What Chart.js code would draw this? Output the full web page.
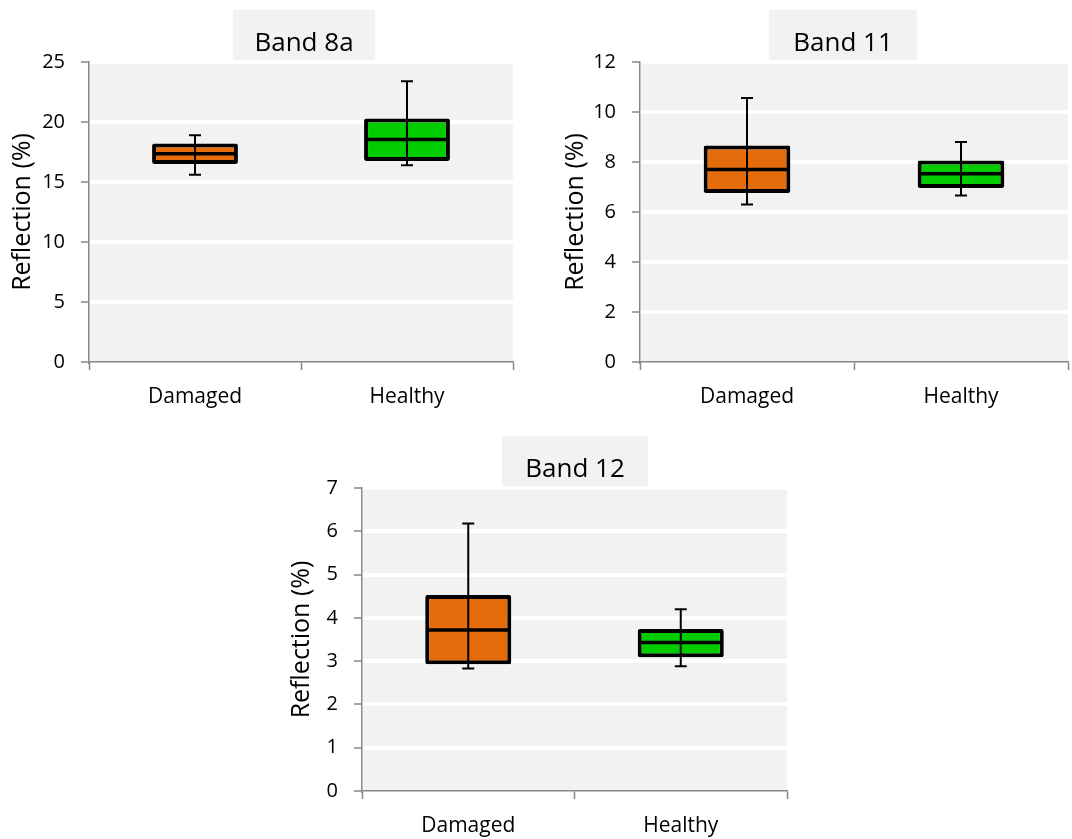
<!DOCTYPE html>
<html lang="en">
<head>
<meta charset="UTF-8">
<title>Reflection by band</title>
<script src="https://cdn.jsdelivr.net/npm/chart.js"></script>
<style>
    body {
        margin: 0;
        width: 1072px;
        height: 839px;
        background: #fff;
        position: relative;
        overflow: hidden;
    }
    canvas {
        position: absolute;
    }
    #band8a { left: 0; top: 0; }
    #band11 { left: 536px; top: 0; }
    #band12 { left: 280px; top: 420px; }
</style>
</head>
<body>
<canvas id="band8a" width="536" height="420"></canvas>
<canvas id="band11" width="536" height="420"></canvas>
<canvas id="band12" width="536" height="419"></canvas>

<script>
    // values, one entry per band, [Damaged, Healthy]
    const categories = ['Damaged', 'Healthy'];
    const bandTitles = ['Band 8a', 'Band 11', 'Band 12'];
    const whiskerLow = [[15.6, 16.4], [6.3, 6.66], [2.83, 2.88]];
    const lowerQuart = [[16.5, 16.75], [6.76, 6.96], [2.93, 3.09]];
    const medians = [[17.36, 18.55], [7.7, 7.53], [3.72, 3.43]];
    const upperQuart = [[18.2, 20.3], [8.66, 8.06], [4.53, 3.74]];
    const whiskerHigh = [[18.9, 23.4], [10.56, 8.8], [6.18, 4.2]];
    const yMax = [25, 12, 7];
    const yStep = [5, 2, 1];

    const boxColors = ['#e46c0a', '#00cc00'];
    const axisGray = '#878787';
    const fontFamily = '"Open Sans", sans-serif';

    // per panel layout (canvas pixels)
    const panels = [
        { id: 'band8a', padLeft: 4, axisW: 85, padRight: 23, padTop: 62, axisH: 58, titleBox: { x: 233, y: 10, w: 142, h: 51 } },
        { id: 'band11', padLeft: 21, axisW: 83, padRight: 4, padTop: 62, axisH: 58, titleBox: { x: 233, y: 10, w: 148, h: 51 } },
        { id: 'band12', padLeft: 3, axisW: 79, padRight: 29, padTop: 68, axisH: 48, titleBox: { x: 222, y: 16, w: 146, h: 51 } }
    ];

    const plotBackground = {
        id: 'plotBackground',
        beforeDraw(chart) {
            const { ctx, chartArea: a } = chart;
            ctx.save();
            ctx.fillStyle = '#f2f2f2';
            ctx.fillRect(a.left + 1, a.top, a.right - a.left - 1, a.bottom - a.top);
            ctx.restore();
        }
    };

    const bandTitle = {
        id: 'bandTitle',
        beforeDraw(chart, args, opts) {
            const { ctx } = chart;
            const b = opts.box;
            ctx.save();
            ctx.fillStyle = '#f2f2f2';
            ctx.fillRect(b.x, b.y, b.w, b.h);
            ctx.fillStyle = '#000';
            ctx.font = '26px ' + fontFamily;
            ctx.textAlign = 'center';
            ctx.textBaseline = 'alphabetic';
            ctx.fillText(opts.text, b.x + b.w / 2, b.y + 41);
            ctx.restore();
        }
    };

    const boxWhiskers = {
        id: 'boxWhiskers',
        afterDatasetsDraw(chart, args, opts) {
            const { ctx } = chart;
            const x = chart.scales.x;
            const y = chart.scales.y;
            const meta = chart.getDatasetMeta(0);
            ctx.save();
            ctx.strokeStyle = '#000';
            opts.medians.forEach((m, i) => {
                const cx = x.getPixelForValue(i);
                const half = meta.data[i].width / 2;
                const my = y.getPixelForValue(m);
                ctx.lineWidth = 3.5;
                ctx.beginPath();
                ctx.moveTo(cx - half + 2, my);
                ctx.lineTo(cx + half - 2, my);
                ctx.stroke();

                const top = y.getPixelForValue(opts.high[i]);
                const bot = y.getPixelForValue(opts.low[i]);
                ctx.lineWidth = 2;
                ctx.beginPath();
                ctx.moveTo(cx, top);
                ctx.lineTo(cx, bot);
                ctx.moveTo(cx - 6, top);
                ctx.lineTo(cx + 6, top);
                ctx.moveTo(cx - 6, bot);
                ctx.lineTo(cx + 6, bot);
                ctx.stroke();
            });
            ctx.restore();
        }
    };

    panels.forEach((p, b) => {
        new Chart(document.getElementById(p.id), {
            type: 'bar',
            data: {
                labels: categories,
                datasets: [{
                    data: categories.map((c, i) => [lowerQuart[b][i], upperQuart[b][i]]),
                    backgroundColor: boxColors,
                    borderColor: '#000',
                    borderWidth: 4,
                    borderRadius: 2,
                    borderSkipped: false,
                    barPercentage: 0.405,
                    categoryPercentage: 1
                }]
            },
            options: {
                responsive: false,
                animation: false,
                layout: {
                    padding: { left: p.padLeft, right: p.padRight, top: p.padTop, bottom: 0 }
                },
                plugins: {
                    legend: { display: false },
                    tooltip: { enabled: false },
                    bandTitle: { text: bandTitles[b], box: p.titleBox },
                    boxWhiskers: { medians: medians[b], low: whiskerLow[b], high: whiskerHigh[b] }
                },
                scales: {
                    x: {
                        offset: true,
                        grid: {
                            offset: true,
                            drawOnChartArea: false,
                            tickColor: axisGray,
                            tickWidth: 1.5,
                            tickLength: 8
                        },
                        border: { color: axisGray, width: 1.5 },
                        ticks: {
                            color: '#000',
                            padding: 14,
                            font: { family: fontFamily, size: 21 }
                        },
                        afterFit(s) { s.height = p.axisH; }
                    },
                    y: {
                        min: 0,
                        max: yMax[b],
                        ticks: {
                            stepSize: yStep[b],
                            color: '#000',
                            padding: 16,
                            font: { family: fontFamily, size: 20 }
                        },
                        grid: {
                            color: ctx => ctx.tick && ctx.tick.value === 0 ? 'rgba(0,0,0,0)' : '#ffffff',
                            lineWidth: 4,
                            tickColor: axisGray,
                            tickWidth: 1.5,
                            tickLength: 8
                        },
                        border: { color: axisGray, width: 1.5 },
                        title: {
                            display: true,
                            text: 'Reflection (%)',
                            color: '#000',
                            padding: 4,
                            font: { family: fontFamily, size: 25, lineHeight: 1.2 }
                        },
                        afterFit(s) { s.width = p.axisW; }
                    }
                }
            },
            plugins: [plotBackground, bandTitle, boxWhiskers]
        });
    });
</script>
</body>
</html>
